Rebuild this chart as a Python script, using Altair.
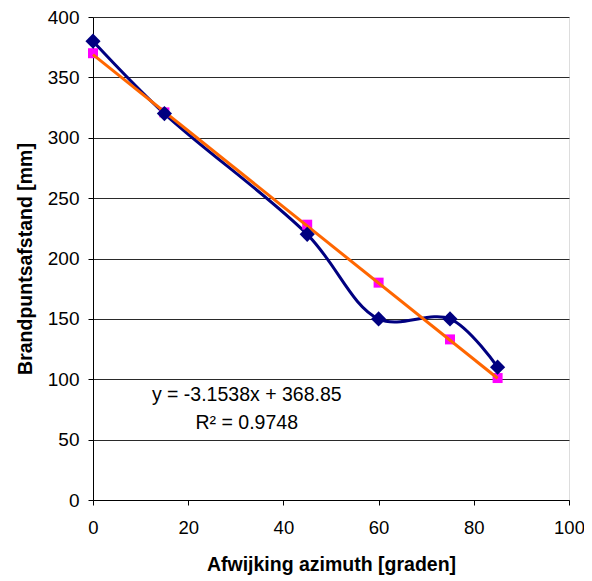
import altair as alt
import pandas as pd

x_vals = [0, 15, 45, 60, 75, 85]
measured = [380, 320, 220, 150, 150, 110]
fitted = [370, 321, 228, 180, 133, 101]
trend_x = [0, 85]
trend_y = [368.85, 100.8]
eq_lines = ["y = -3.1538x + 368.85", "R² = 0.9748"]
eq_x = [32.3, 32.3]
eq_y = [87, 64]

df = pd.DataFrame({"x": x_vals, "m": measured, "f": fitted})
tdf = pd.DataFrame({"x": trend_x, "y": trend_y})
edf = pd.DataFrame({"x": eq_x, "y": eq_y, "t": eq_lines})

FONT = "Liberation Sans"
xs = alt.Scale(domain=[0, 100], nice=False, zero=False)
ys = alt.Scale(domain=[0, 400], nice=False, zero=False)

xax = alt.Axis(title="Afwijking azimuth [graden]", values=list(range(0, 101, 20)),
               grid=False, domainColor="black", tickColor="black", tickSize=5,
               labelFlush=False,
               labelFont=FONT, labelFontSize=18.5, labelColor="black", labelPadding=13,
               titleFont=FONT, titleFontSize=19.5, titleFontWeight="bold", titleColor="black",
               titlePadding=19)
yax = alt.Axis(title="Brandpuntsafstand [mm]", values=list(range(0, 401, 50)),
               grid=True, gridColor="#2a2a2a", gridWidth=1,
               domainColor="black", tickColor="black", tickSize=5,
               labelFlush=False,
               labelFont=FONT, labelFontSize=19, labelColor="black", labelPadding=9,
               titleFont=FONT, titleFontSize=19.5, titleFontWeight="bold", titleColor="black",
               titlePadding=12)

base = alt.Chart(df)
line = base.mark_line(color="#000080", strokeWidth=3, interpolate="catmull-rom").encode(
    x=alt.X("x:Q", scale=xs, axis=xax), y=alt.Y("m:Q", scale=ys, axis=yax))
diam = base.mark_point(shape="diamond", filled=True, color="#000080", size=230, opacity=1).encode(
    x=alt.X("x:Q", scale=xs), y=alt.Y("m:Q", scale=ys))
sq = base.mark_point(shape="square", filled=True, color="#FF00FF", size=100, opacity=1).encode(
    x=alt.X("x:Q", scale=xs), y=alt.Y("f:Q", scale=ys))
trend = alt.Chart(tdf).mark_line(color="#FF6600", strokeWidth=3).encode(
    x=alt.X("x:Q", scale=xs), y=alt.Y("y:Q", scale=ys))
txt = alt.Chart(edf).mark_text(font=FONT, fontSize=19.5, color="black", baseline="middle").encode(
    x=alt.X("x:Q", scale=xs), y=alt.Y("y:Q", scale=ys), text="t:N")

chart = alt.layer(line, sq, trend, diam, txt).properties(
    width=476, height=483,
    autosize=alt.AutoSizeParams(type="none"),
    padding={"left": 85, "top": 9, "right": 15, "bottom": 80},
).configure_view(fill="#C0C0C0", stroke="#808080", strokeWidth=2).configure(background="white")

chart.save("out.html", embed_options={"renderer": "svg", "actions": False})
